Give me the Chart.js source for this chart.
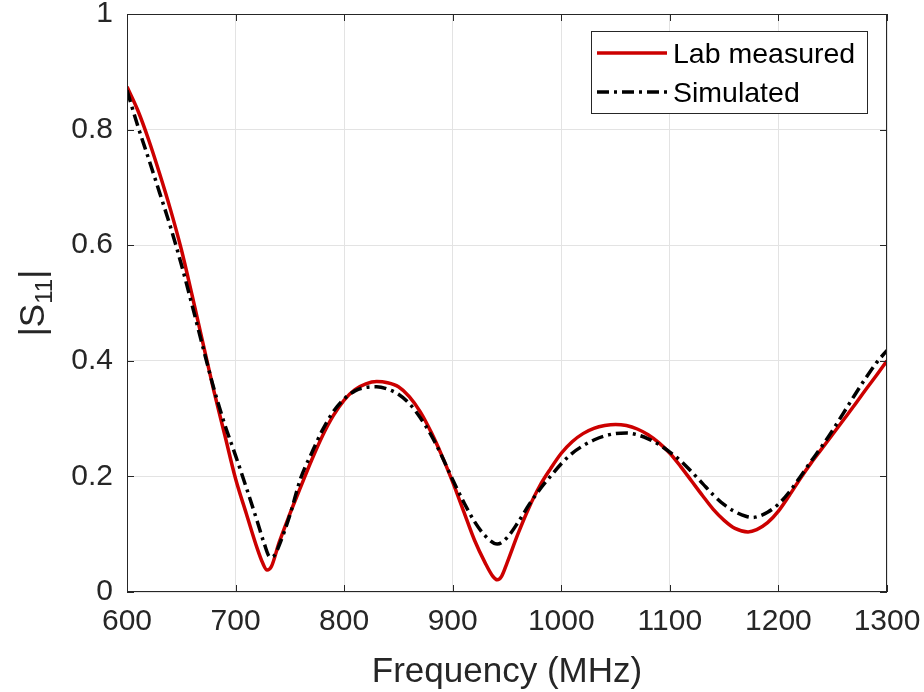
<!DOCTYPE html>
<html lang="en">
<head>
  <meta charset="UTF-8">
  <title>|S11| vs Frequency</title>
  <script src="https://cdn.jsdelivr.net/npm/chart.js"></script>
  <style>
    html, body { margin: 0; padding: 0; background: #fff; }
    #wrap { width: 924px; height: 692px; }
  </style>
</head>
<body>
  <div id="wrap"><canvas id="myChart" width="924" height="692"></canvas></div>

  <script>
    // values
    const labMhz = [600, 610, 620, 630, 640, 650, 660, 670, 680, 690, 700, 710, 720, 725, 729, 733, 740, 750, 760, 770, 780, 790,
      800, 810, 820, 830, 840, 850, 860, 870, 880, 890, 900, 910, 920, 930, 937, 941, 945, 950, 960, 970, 980, 990,
      1000, 1010, 1020, 1030, 1040, 1050, 1060, 1070, 1080, 1090, 1100, 1110, 1120, 1130, 1140, 1150, 1160, 1172, 1180, 1190,
      1200, 1210, 1220, 1230, 1240, 1250, 1260, 1270, 1280, 1290, 1300];
    const labS11 = [0.874, 0.833, 0.782, 0.724, 0.662, 0.593, 0.513, 0.43, 0.348, 0.272, 0.196, 0.135, 0.075, 0.05, 0.038, 0.044, 0.085, 0.135, 0.182, 0.228, 0.27, 0.305,
      0.332, 0.35, 0.36, 0.364, 0.362, 0.355, 0.338, 0.312, 0.277, 0.236, 0.19, 0.14, 0.09, 0.05, 0.027, 0.021, 0.027, 0.05, 0.1, 0.145, 0.183, 0.213,
      0.24, 0.26, 0.274, 0.283, 0.288, 0.29, 0.288, 0.282, 0.272, 0.258, 0.24, 0.217, 0.192, 0.167, 0.143, 0.124, 0.11, 0.104, 0.108, 0.12,
      0.14, 0.167, 0.196, 0.223, 0.248, 0.273, 0.298, 0.323, 0.349, 0.374, 0.4];

    const simMhz = [600, 610, 620, 630, 640, 650, 660, 670, 680, 690, 700, 710, 720, 726, 732, 736, 740, 750, 760, 770, 780, 790,
      800, 810, 820, 830, 840, 850, 860, 870, 880, 890, 900, 910, 920, 930, 941, 950, 960, 970, 980, 990,
      1000, 1010, 1020, 1030, 1040, 1050, 1060, 1070, 1080, 1090, 1100, 1110, 1120, 1130, 1140, 1150, 1160, 1170, 1176, 1180, 1190,
      1200, 1210, 1220, 1230, 1240, 1250, 1260, 1270, 1280, 1290, 1300];
    const simS11 = [0.868, 0.806, 0.749, 0.691, 0.632, 0.567, 0.496, 0.423, 0.352, 0.29, 0.236, 0.18, 0.122, 0.086, 0.06, 0.064, 0.08, 0.133, 0.197, 0.24, 0.28, 0.312,
      0.334, 0.348, 0.354, 0.355, 0.351, 0.342, 0.326, 0.302, 0.272, 0.235, 0.194, 0.156, 0.122, 0.097, 0.083, 0.094, 0.12, 0.15, 0.177, 0.2,
      0.222, 0.24, 0.253, 0.263, 0.27, 0.274, 0.275, 0.272, 0.265, 0.255, 0.242, 0.227, 0.208, 0.188, 0.168, 0.151, 0.139, 0.131, 0.129, 0.13, 0.138,
      0.152, 0.173, 0.199, 0.226, 0.252, 0.28, 0.31, 0.34, 0.369, 0.396, 0.418];

    const xTicks = [600, 700, 800, 900, 1000, 1100, 1200, 1300];
    const yTicks = [0, 0.2, 0.4, 0.6, 0.8, 1];
    const seriesNames = ['Lab measured', 'Simulated'];

    const axisColor = '#262626';
    const FONT = '"Liberation Sans", Arial, sans-serif';

    const toPoints = (xs, ys) => xs.map((x, i) => ({ x: x, y: ys[i] }));

    // keep the plot box where the reference has it
    function noScalePadding(s) {
      s.paddingLeft = 0; s.paddingRight = 0; s.paddingTop = 0; s.paddingBottom = 0;
    }

    // box, inside ticks, axis titles and legend, MATLAB style
    const matlabDecor = {
      id: 'matlabDecor',
      afterDatasetsDraw(chart) {
        const { ctx, chartArea: a, scales } = chart;
        ctx.save();
        ctx.strokeStyle = axisColor;
        ctx.lineWidth = 1;
        ctx.strokeRect(a.left + 0.5, a.top + 0.5, a.right - a.left - 1, a.bottom - a.top - 1);

        // tick marks pointing inward on all four sides
        const tl = 7;
        ctx.beginPath();
        xTicks.forEach(v => {
          const px = Math.round(scales.x.getPixelForValue(v)) + 0.5;
          ctx.moveTo(px, a.bottom); ctx.lineTo(px, a.bottom - tl);
          ctx.moveTo(px, a.top); ctx.lineTo(px, a.top + tl);
        });
        yTicks.forEach(v => {
          const py = Math.round(scales.y.getPixelForValue(v)) + 0.5;
          ctx.moveTo(a.left, py); ctx.lineTo(a.left + tl, py);
          ctx.moveTo(a.right, py); ctx.lineTo(a.right - tl, py);
        });
        ctx.stroke();

        // x title
        ctx.fillStyle = axisColor;
        ctx.font = '35px ' + FONT;
        ctx.textAlign = 'center';
        ctx.textBaseline = 'alphabetic';
        ctx.fillText('Frequency (MHz)', (a.left + a.right) / 2, 682);

        // y title |S11| with subscript
        ctx.translate(44, (a.top + a.bottom) / 2);
        ctx.rotate(-Math.PI / 2);
        ctx.textAlign = 'left';
        const big = '35px ' + FONT, small = '24px ' + FONT;
        ctx.font = big;
        const w1 = ctx.measureText('|S').width;
        ctx.font = small;
        const w2 = ctx.measureText('11').width;
        ctx.font = big;
        const w3 = ctx.measureText('|').width;
        let x0 = -(w1 + w2 + w3) / 2;
        ctx.fillText('|S', x0, 0);
        ctx.font = small;
        ctx.fillText('11', x0 + w1, 8);
        ctx.font = big;
        ctx.fillText('|', x0 + w1 + w2, 0);
        ctx.restore();

        // legend
        ctx.save();
        const bx = 591, by = 31, bw = 276, bh = 82;
        ctx.fillStyle = '#fff';
        ctx.fillRect(bx, by, bw, bh);
        ctx.strokeStyle = axisColor;
        ctx.lineWidth = 1;
        ctx.strokeRect(bx + 0.5, by + 0.5, bw, bh);
        const ds = chart.data.datasets;
        const rows = [{ d: ds[1], y: 53, ty: 63 }, { d: ds[0], y: 92, ty: 102 }];
        rows.forEach(r => {
          ctx.strokeStyle = r.d.borderColor;
          ctx.lineWidth = 3.5;
          ctx.setLineDash(r.d.borderDash || []);
          ctx.beginPath();
          ctx.moveTo(597, r.y); ctx.lineTo(667, r.y);
          ctx.stroke();
          ctx.setLineDash([]);
          ctx.fillStyle = '#000';
          ctx.font = '28.5px ' + FONT;
          ctx.textAlign = 'left';
          ctx.fillText(r.d.label, 673, r.ty);
        });
        ctx.restore();
      }
    };

    const ctx = document.getElementById('myChart').getContext('2d');
    const myChart = new Chart(ctx, {
      type: 'line',
      data: {
        datasets: [{
          label: seriesNames[1],
          data: toPoints(simMhz, simS11),
          borderColor: '#000000',
          borderWidth: 3.5,
          borderDash: [12, 5, 3, 5],
          pointRadius: 0,
          cubicInterpolationMode: 'monotone',
          fill: false,
          order: 0
        },
        {
          label: seriesNames[0],
          data: toPoints(labMhz, labS11),
          borderColor: '#cc0000',
          borderWidth: 3.5,
          pointRadius: 0,
          cubicInterpolationMode: 'monotone',
          fill: false,
          order: 1
        }]
      },
      options: {
        responsive: false,
        animation: false,
        layout: { padding: { top: 14, right: 37, left: 0, bottom: 0 } },
        plugins: {
          legend: { display: false },
          tooltip: { enabled: false }
        },
        scales: {
          x: {
            type: 'linear',
            min: 600,
            max: 1300,
            afterBuildTicks: s => { s.ticks = xTicks.map(v => ({ value: v })); },
            afterFit: s => { s.height = 100; noScalePadding(s); },
            grid: { color: '#e3e3e3', drawTicks: false },
            border: { display: false },
            ticks: {
              color: axisColor,
              padding: 12,
              maxRotation: 0,
              callback: v => String(v),
              font: { family: FONT, size: 30 }
            }
          },
          y: {
            type: 'linear',
            min: 0,
            max: 1,
            afterBuildTicks: s => { s.ticks = yTicks.map(v => ({ value: v })); },
            afterFit: s => { s.width = 127; noScalePadding(s); },
            grid: { color: '#e3e3e3', drawTicks: false },
            border: { display: false },
            ticks: {
              color: axisColor,
              padding: 14,
              callback: v => String(Math.round(v * 10) / 10),
              font: { family: FONT, size: 30, lineHeight: 0.9 }
            }
          }
        }
      },
      plugins: [matlabDecor]
    });
  </script>
</body>
</html>
